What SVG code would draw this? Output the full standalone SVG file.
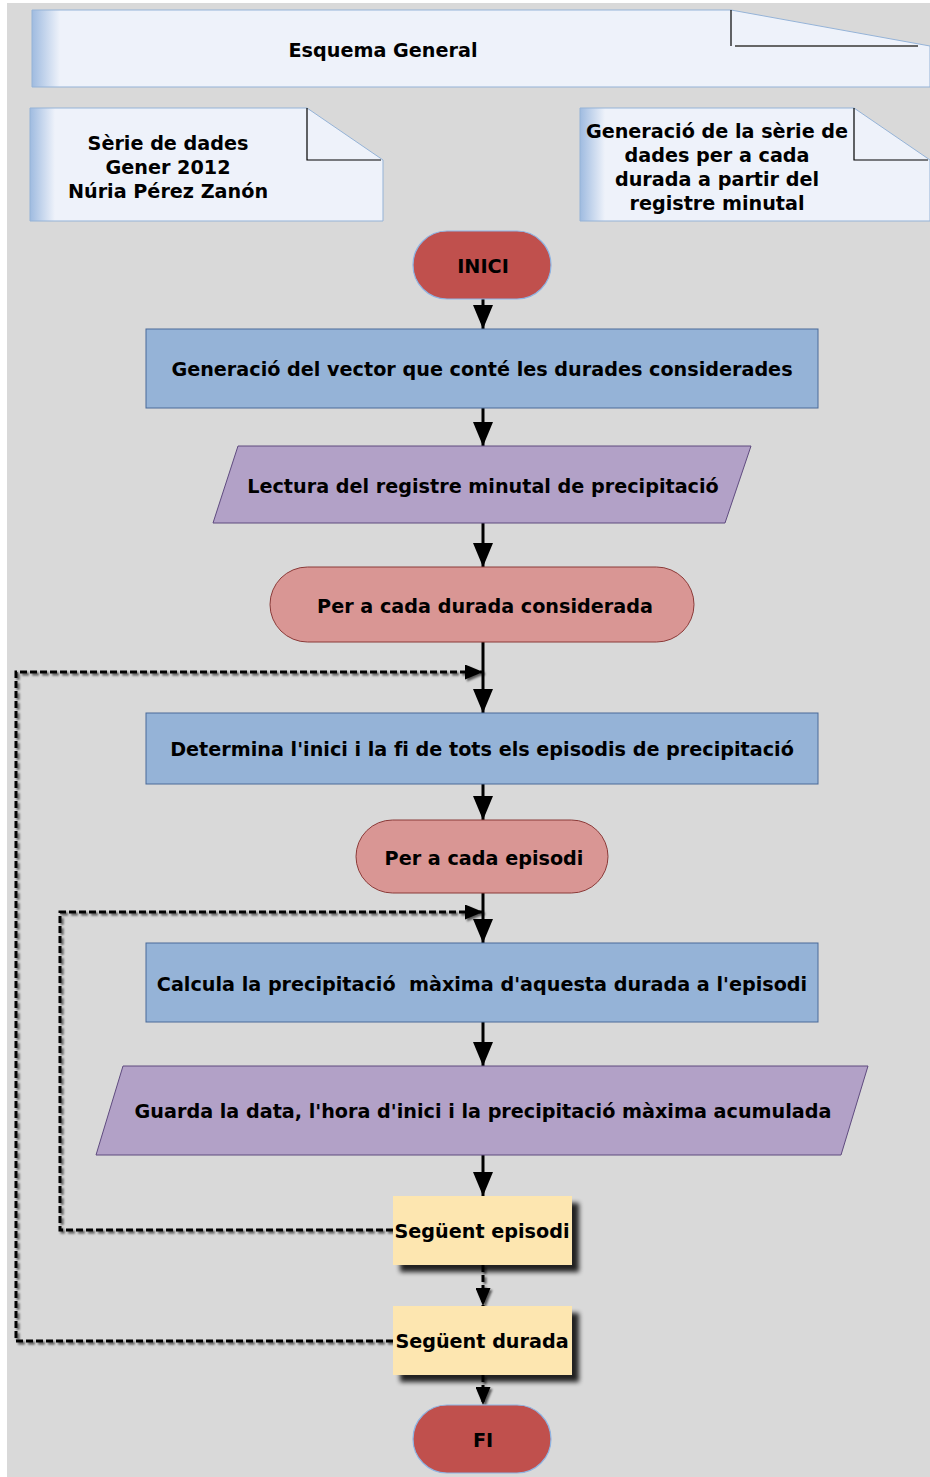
<svg xmlns="http://www.w3.org/2000/svg" width="930" height="1477" viewBox="0 0 930 1477">
<defs>
<style>
text{font-family:"DejaVu Sans","Verdana",sans-serif;font-weight:bold;font-size:19.2px;fill:#000;text-anchor:middle;font-variant-ligatures:none;font-feature-settings:"liga" 0}
.fold{fill:none;stroke:#000;stroke-width:1.2}
.proc{fill:#95b3d7;stroke:#4a6a99;stroke-width:1}
.io{fill:#b2a1c7;stroke:#5f4b7f;stroke-width:1}
.loop{fill:#d99694;stroke:#8b3a38;stroke-width:1}
.term{fill:#c0504d;stroke:#8eb4e3;stroke-width:1.2}
.next{fill:#fde6b0;stroke:none}
.solid{fill:none;stroke:#000;stroke-width:3}
.dash{fill:none;stroke:#000;stroke-width:3;stroke-dasharray:7 3}
</style>
<linearGradient id="headGrad" x1="32" y1="0" x2="60" y2="0" gradientUnits="userSpaceOnUse">
<stop offset="0" stop-color="#9fbbe0"/>
<stop offset="1" stop-color="#eef2fa"/>
</linearGradient>
<linearGradient id="n2Grad" x1="30" y1="0" x2="55" y2="0" gradientUnits="userSpaceOnUse">
<stop offset="0" stop-color="#9fbbe0"/>
<stop offset="1" stop-color="#eef2fa"/>
</linearGradient>
<linearGradient id="n3Grad" x1="580" y1="0" x2="605" y2="0" gradientUnits="userSpaceOnUse">
<stop offset="0" stop-color="#9fbbe0"/>
<stop offset="1" stop-color="#eef2fa"/>
</linearGradient>
<filter id="shadow" x="-20%" y="-20%" width="150%" height="150%">
<feGaussianBlur in="SourceAlpha" stdDeviation="2.5"/>
<feOffset dx="7" dy="7" result="b"/>
<feComponentTransfer><feFuncA type="linear" slope="0.85"/></feComponentTransfer>
<feMerge><feMergeNode/><feMergeNode in="SourceGraphic"/></feMerge>
</filter>
<filter id="lshadow" x="-10%" y="-10%" width="120%" height="120%">
<feGaussianBlur in="SourceAlpha" stdDeviation="1"/>
<feOffset dx="1.5" dy="1.5" result="b"/>
<feComponentTransfer><feFuncA type="linear" slope="0.6"/></feComponentTransfer>
<feMerge><feMergeNode/><feMergeNode in="SourceGraphic"/></feMerge>
</filter>
<marker id="arr" markerUnits="userSpaceOnUse" markerWidth="24" markerHeight="20" viewBox="0 0 24 20" refX="24" refY="10" orient="auto">
<path d="M0,0 L24,10 L0,20 z" fill="#000"/>
</marker>
<marker id="arrS" markerUnits="userSpaceOnUse" markerWidth="18" markerHeight="15" viewBox="0 0 18 15" refX="18" refY="7.5" orient="auto">
<path d="M0,0 L18,7.5 L0,15 z" fill="#000"/>
</marker>
</defs>
<rect x="0" y="0" width="930" height="1477" fill="#ffffff"/>
<rect x="7" y="3" width="923" height="1474" fill="#d9d9d9"/>

<g id="header">
<path d="M32,10 H731 L930,46 V87 H32 Z" fill="url(#headGrad)" stroke="#95b3d7" stroke-width="1"/>
<path d="M731,10 V46" class="fold"/>
<path d="M735,46 H918" fill="none" stroke="#666" stroke-width="2"/>
<text x="383" y="57">Esquema General</text>
</g>

<g id="note-serie">
<path d="M30,108 H307 L383,160 V221 H30 Z" fill="url(#n2Grad)" stroke="#95b3d7" stroke-width="1"/>
<path d="M307,108 V160 H381" class="fold"/>
<text x="168" y="150">Sèrie de dades</text>
<text x="168" y="174">Gener 2012</text>
<text x="168" y="198">Núria Pérez Zanón</text>
</g>

<g id="note-generacio">
<path d="M580,108 H854 L930,160 V221 H580 Z" fill="url(#n3Grad)" stroke="#95b3d7" stroke-width="1"/>
<path d="M854,108 V160 H928" class="fold"/>
<text x="717" y="138">Generació de la sèrie de</text>
<text x="717" y="162">dades per a cada</text>
<text x="717" y="186">durada a partir del</text>
<text x="717" y="210">registre minutal</text>
</g>

<g id="connectors">
<path d="M483,299 V329" class="solid" marker-end="url(#arr)"/>
<path d="M483,408 V446" class="solid" marker-end="url(#arr)"/>
<path d="M483,523 V567" class="solid" marker-end="url(#arr)"/>
<path d="M483,642 V713" class="solid" marker-end="url(#arr)"/>
<path d="M483,784 V820" class="solid" marker-end="url(#arr)"/>
<path d="M483,893 V943" class="solid" marker-end="url(#arr)"/>
<path d="M483,1022 V1066" class="solid" marker-end="url(#arr)"/>
<path d="M483,1155 V1196" class="solid" marker-end="url(#arr)"/>
<g filter="url(#lshadow)">
<path d="M393,1341 H16 V672 H483" class="dash" marker-end="url(#arrS)"/>
<path d="M393,1230 H60 V912 H483" class="dash" marker-end="url(#arrS)"/>
<path d="M483,1265 V1306" class="dash" marker-end="url(#arrS)"/>
<path d="M483,1375 V1405" class="dash" marker-end="url(#arrS)"/>
</g>
</g>

<g id="inici">
<rect x="413" y="231" width="138" height="68" rx="34" class="term"/>
<text x="483" y="273">INICI</text>
</g>

<g id="vector">
<rect x="146" y="329" width="672" height="79" class="proc"/>
<text x="482" y="376">Generació del vector que conté les durades considerades</text>
</g>

<g id="lectura">
<path d="M238,446 H751 L725,523 H213 Z" class="io"/>
<text x="483" y="493">Lectura del registre minutal de precipitació</text>
</g>

<g id="per-durada">
<rect x="270" y="567" width="424" height="75" rx="37.5" class="loop"/>
<text x="485" y="613">Per a cada durada considerada</text>
</g>

<g id="determina">
<rect x="146" y="713" width="672" height="71" class="proc"/>
<text x="482" y="756">Determina l'inici i la fi de tots els episodis de precipitació</text>
</g>

<g id="per-episodi">
<rect x="356" y="820" width="252" height="73" rx="36.5" class="loop"/>
<text x="484" y="865">Per a cada episodi</text>
</g>

<g id="calcula">
<rect x="146" y="943" width="672" height="79" class="proc"/>
<text x="482" y="991" xml:space="preserve">Calcula la precipitació  màxima d'aquesta durada a l'episodi</text>
</g>

<g id="guarda">
<path d="M123,1066 H868 L841,1155 H96 Z" class="io"/>
<text x="483" y="1118">Guarda la data, l'hora d'inici i la precipitació màxima acumulada</text>
</g>

<g id="seguent-episodi">
<rect x="393" y="1196" width="179" height="69" class="next" filter="url(#shadow)"/>
<text x="482" y="1238">Següent episodi</text>
</g>

<g id="seguent-durada">
<rect x="393" y="1306" width="179" height="69" class="next" filter="url(#shadow)"/>
<text x="482" y="1348">Següent durada</text>
</g>

<g id="fi">
<rect x="413" y="1405" width="138" height="68" rx="34" class="term"/>
<text x="483" y="1447">FI</text>
</g>
</svg>
